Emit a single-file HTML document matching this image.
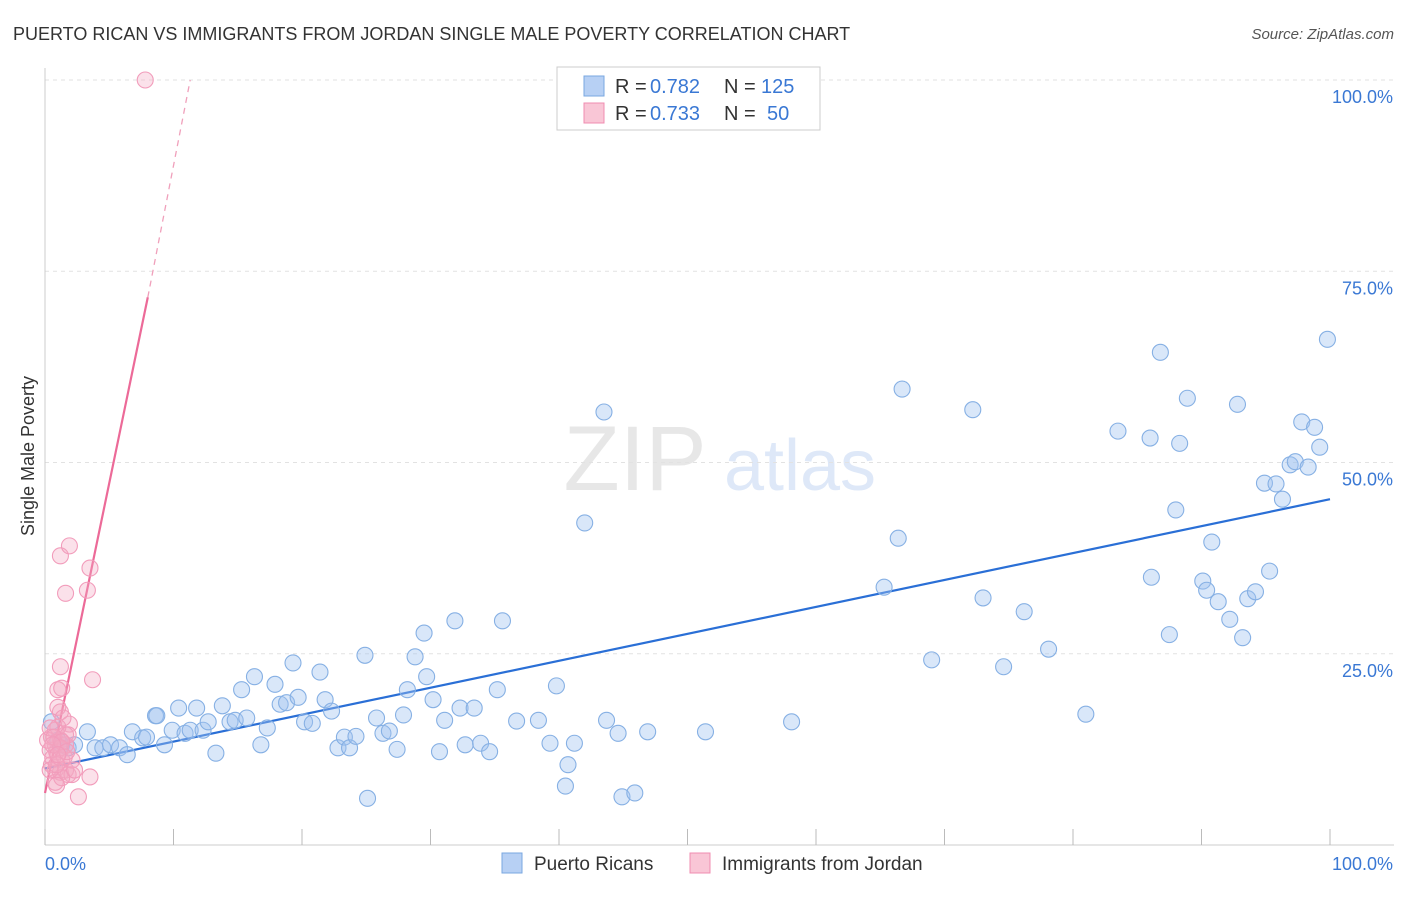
<!DOCTYPE html>
<html><head><meta charset="utf-8"><style>
body{margin:0;background:#fff;font-family:"Liberation Sans",sans-serif;}
svg text{font-family:"Liberation Sans",sans-serif;}
</style></head><body>
<svg id="chart" width="1406" height="892" xmlns="http://www.w3.org/2000/svg">
<text x="13" y="40" font-size="18" fill="#333">PUERTO RICAN VS IMMIGRANTS FROM JORDAN SINGLE MALE POVERTY CORRELATION CHART</text>
<text x="1394" y="39" font-size="15" fill="#555" text-anchor="end" font-style="italic">Source: ZipAtlas.com</text>
<text transform="translate(34,456) rotate(-90)" font-size="18" fill="#333" text-anchor="middle">Single Male Poverty</text>
<g opacity="0.45">
<text x="635" y="490" font-size="92" fill="#ccc" font-family="Liberation Serif" text-anchor="middle">ZIP</text>
<text x="800" y="490" font-size="72" fill="#b8cdf0" text-anchor="middle">atlas</text>
</g>
<g id="grid"></g><g id="xticks"></g><g id="trend"></g><g id="pts"></g>
<g>
<rect x="557" y="67" width="263" height="63" fill="#fff" stroke="#ccc"/>
<rect x="584" y="76" width="20" height="20" fill="#b7d0f4" stroke="#7aa7e0"/>
<rect x="584" y="103" width="20" height="20" fill="#f9c6d6" stroke="#f08cb0"/>
<text x="615" y="93" font-size="20" fill="#333">R =</text>
<text x="650" y="93" font-size="20" fill="#3a78d4">0.782</text>
<text x="724" y="93" font-size="20" fill="#333">N =</text>
<text x="761" y="93" font-size="20" fill="#3a78d4">125</text>
<text x="615" y="120" font-size="20" fill="#333">R =</text>
<text x="650" y="120" font-size="20" fill="#3a78d4">0.733</text>
<text x="724" y="120" font-size="20" fill="#333">N =</text>
<text x="767" y="120" font-size="20" fill="#3a78d4">50</text>
</g>
<g>
<rect x="502" y="853" width="20" height="20" fill="#b7d0f4" stroke="#7aa7e0"/>
<text x="534" y="870" font-size="19" fill="#333">Puerto Ricans</text>
<rect x="690" y="853" width="20" height="20" fill="#f9c6d6" stroke="#f08cb0"/>
<text x="722" y="870" font-size="19" fill="#333">Immigrants from Jordan</text>
</g>
<text x="45" y="870" font-size="18" fill="#3a78d4">0.0%</text>
<text x="1393" y="870" font-size="18" fill="#3a78d4" text-anchor="end">100.0%</text>
</svg>
<script>
const yTicks=[25,50,75,100];
const yTickLabels=["25.0%","50.0%","75.0%","100.0%"];
const xTicks=[0,10,20,30,40,50,60,70,80,90,100];
const blueX=[0.5,1.0,1.3,1.8,2.3,3.3,3.9,4.5,5.1,5.8,6.4,6.8,7.6,7.9,8.6,8.7,9.3,9.9,10.4,10.9,11.3,11.8,12.3,12.7,13.3,13.8,14.4,14.8,15.3,15.7,16.3,16.8,17.3,17.9,18.3,18.8,19.3,19.7,20.2,20.8,21.4,21.8,22.3,22.8,23.3,23.7,24.2,24.9,25.1,25.8,26.3,26.8,27.4,27.9,28.2,28.8,29.5,29.7,30.2,30.7,31.1,31.9,32.3,32.7,33.4,33.9,34.6,35.2,35.6,36.7,38.4,39.3,39.8,40.5,40.7,41.2,42.0,43.5,43.7,44.6,44.9,45.9,46.9,51.4,58.1,65.3,66.4,66.7,69.0,72.2,73.0,74.6,76.2,78.1,81.0,83.5,86.0,86.1,86.8,87.5,88.0,88.3,88.9,90.1,90.4,90.8,91.3,92.2,92.8,93.2,93.6,94.2,94.9,95.3,95.8,96.3,96.9,97.3,97.8,98.3,98.8,99.2,99.8];
const blueY=[16.1,13.7,13.1,12.7,13.1,14.8,12.7,12.7,13.1,12.7,11.8,14.8,14.0,14.1,16.9,16.9,13.1,15.0,17.9,14.6,15.0,17.9,15.0,16.1,12.0,18.2,16.1,16.3,20.3,16.6,22.0,13.1,15.3,21.0,18.4,18.6,23.8,19.3,16.1,15.9,22.6,19.0,17.5,12.7,14.1,12.7,14.2,24.8,6.1,16.6,14.6,14.9,12.5,17.0,20.3,24.6,27.7,22.0,19.0,12.2,16.3,29.3,17.9,13.1,17.9,13.3,12.2,20.3,29.3,16.2,16.3,13.3,20.8,7.7,10.5,13.3,42.1,56.6,16.3,14.6,6.3,6.8,14.8,14.8,16.1,33.7,40.1,59.6,24.2,56.9,32.3,23.3,30.5,25.6,17.1,54.1,53.2,35.0,64.4,27.5,43.8,52.5,58.4,34.5,33.3,39.6,31.8,29.5,57.6,27.1,32.2,33.1,47.3,35.8,47.2,45.2,49.7,50.1,55.3,49.4,54.6,52.0,66.1];
const pinkX=[7.8,1.2,1.9,1.6,3.3,3.5,3.7,1.2,1.0,1.3,1.2,1.9,1.0,0.8,0.5,1.2,1.6,0.8,0.9,1.3,0.5,0.8,1.2,1.6,1.8,2.1,0.8,1.3,2.6,3.5,0.4,0.6,1.0,1.4,0.2,0.4,0.7,1.6,1.8,0.9,2.1,1.2,1.5,0.4,0.9,1.3,1.7,0.6,2.3,1.0];
const pinkY=[100,37.8,39.1,32.9,33.3,36.2,21.6,23.3,20.3,20.5,17.4,15.8,18.0,15.0,14.1,13.7,14.4,13.1,12.2,11.1,10.5,9.8,9.5,9.8,9.2,9.2,8.2,8.8,6.3,8.9,12.4,11.4,15.4,16.6,13.7,15.3,14.1,13.1,14.4,7.8,11.1,12.7,11.5,9.8,10.5,13.5,12.2,13.1,9.8,11.8];
const blueTrend=[[0,10.0],[100,45.2]];
const pinkTrendSolid=[[0,6.8],[8,71.6]];
const pinkTrendDash=[[8,71.6],[11.3,100]];
const X0=45,X1=1330,Y0=845,Y1=80;
const sx=v=>X0+(X1-X0)*v/100, sy=v=>Y0-(Y0-Y1)*v/100;
const NS="http://www.w3.org/2000/svg";
function mk(t,a,p){const e=document.createElementNS(NS,t);for(const k in a)e.setAttribute(k,a[k]);p.appendChild(e);return e;}
const grid=document.getElementById('grid');
yTicks.forEach((v,i)=>{
 const l=mk('line',{x1:X0,x2:1394,y1:sy(v),y2:sy(v),stroke:'#e2e2e2','stroke-dasharray':'4,4'},grid);
 
 
 const t=mk('text',{x:1393,y:sy(v)+23,'font-size':18,fill:'#3a78d4','text-anchor':'end'},grid);
 t.textContent=yTickLabels[i];
 
 
});
const ax=mk('line',{x1:X0,x2:1394,y1:Y0,y2:Y0,stroke:'#ccc'},grid);


const ay=mk('line',{x1:X0,x2:X0,y1:68,y2:Y0,stroke:'#ccc'},grid);


const xt=document.getElementById('xticks');
xTicks.forEach(v=>{const l=mk('line',{x1:sx(v),x2:sx(v),y1:Y0-16,y2:Y0,stroke:'#bbb'},xt);
 
 });
const tr=document.getElementById('trend');
function ln(d,c,w,dash,name){const a={x1:sx(d[0][0]),y1:sy(d[0][1]),x2:sx(d[1][0]),y2:sy(d[1][1]),stroke:c,'stroke-width':w};if(dash)a['stroke-dasharray']=dash;const l=mk('line',a,tr);
 
 }
ln(blueTrend,'#2a6fd6',2.2,null,'puerto-rican-trendline');
ln(pinkTrendSolid,'#ec6a98',2.2,null,'jordan-trendline');
ln(pinkTrendDash,'#f0a0bb',1.3,'6,5','jordan-trendline-extension');
const pts=document.getElementById('pts');
blueX.forEach((x,i)=>{const c=mk('circle',{cx:sx(x),cy:sy(blueY[i]),r:8,fill:'rgba(160,196,240,0.4)',stroke:'#86b0e4','stroke-width':1.1},pts);
 
 });
pinkX.forEach((x,i)=>{const c=mk('circle',{cx:sx(x),cy:sy(pinkY[i]),r:8,fill:'rgba(244,170,195,0.35)',stroke:'#f29cbb','stroke-width':1.1},pts);
 
 });
</script>
</body></html>
